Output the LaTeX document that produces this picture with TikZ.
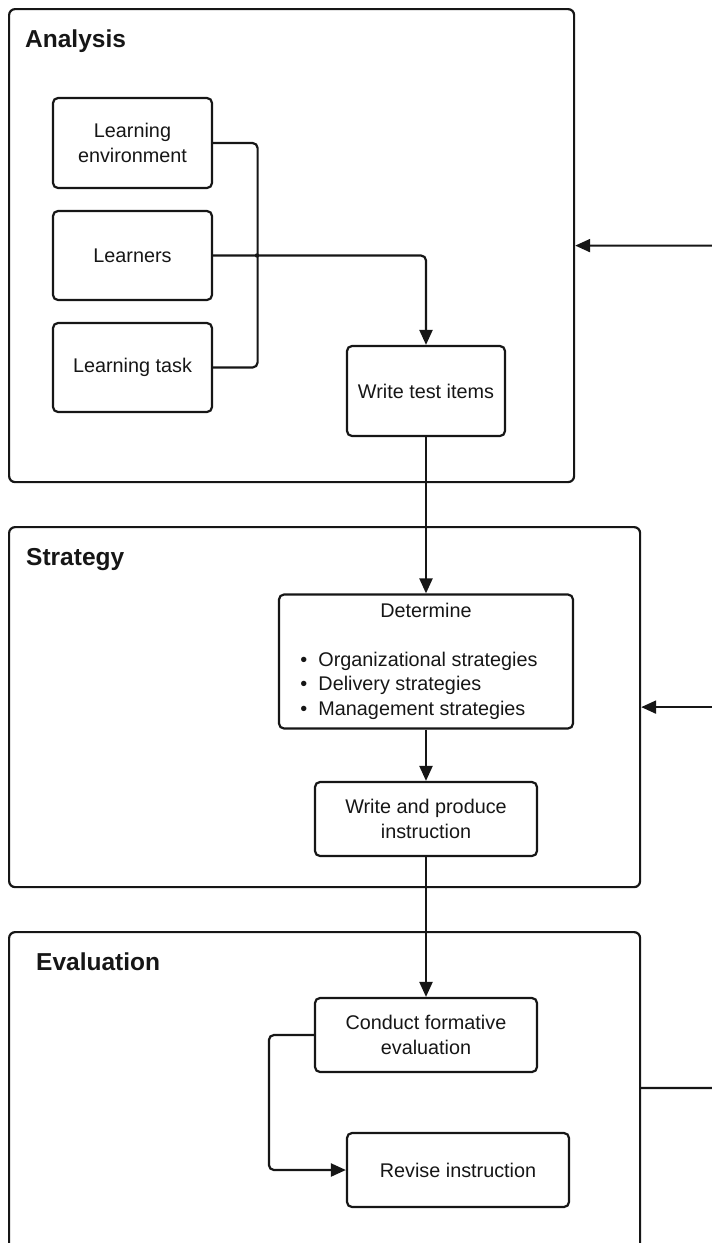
\documentclass[tikz,border=0pt]{standalone}
\usepackage{fontspec}
\setmainfont{Liberation Sans}
\usetikzlibrary{arrows.meta}
\definecolor{ink}{HTML}{161616}
\begin{document}
\begin{tikzpicture}[x=1pt,y=-1pt,
  panel/.style={draw=ink, line width=2.2pt, rounded corners=6pt, inner sep=0, anchor=north west},
  stepbox/.style={draw=ink, line width=2.2pt, rounded corners=5pt, align=center, text=ink,
    font=\fontsize{19.8}{24.5}\selectfont, inner sep=0},
  title/.style={font=\fontsize{24.5}{28}\selectfont\bfseries, text=ink, anchor=base west, inner sep=0},
  link/.style={draw=ink, line width=2.2pt, rounded corners=5pt},
  flow/.style={link, -{Triangle[length=15pt,width=13pt]}}]
\useasboundingbox (0,0) rectangle (712,1243);
\clip (0,0) rectangle (712,1243);

% phase panels
\node[panel, minimum width=565, minimum height=473] (analysis) at (8,8) {};
\node[panel, minimum width=631, minimum height=360] (strategy) at (8,526) {};
\node[panel, minimum width=631, minimum height=330] (evaluation) at (8,931) {};

\node[title] (tana) at (25,47) {Analysis};
\node[title] (tstr) at (26,565) {Strategy};
\node[title] (teva) at (36,970) {Evaluation};

% analysis steps
\node[stepbox, minimum width=159, minimum height=90] (env) at (132.5,143) {Learning\\environment};
\node[stepbox, minimum width=159, minimum height=89] (lrn) at (132.5,255.5) {Learners};
\node[stepbox, minimum width=159, minimum height=89] (task) at (132.5,367.5) {Learning task};
\node[stepbox, minimum width=158, minimum height=90] (wti) at (426,391) {Write test items};

% strategy steps
\node[stepbox, minimum width=294, minimum height=134] (det) at (426,661.5) {%
  \begin{tabular}{@{}l@{\hspace{14pt}}}
  \multicolumn{1}{@{\hspace{7pt}}c@{\hspace{7pt}}}{Determine}\\[24.5pt]
  \makebox[18pt][l]{\textbullet}Organizational strategies\\
  \makebox[18pt][l]{\textbullet}Delivery strategies\\
  \makebox[18pt][l]{\textbullet}Management strategies
  \end{tabular}};
\node[stepbox, minimum width=222, minimum height=74] (wpi) at (426,819) {Write and produce\\instruction};

% evaluation steps
\node[stepbox, minimum width=222, minimum height=74] (cfe) at (426,1035) {Conduct formative\\evaluation};
\node[stepbox, minimum width=222, minimum height=74] (rev) at (458,1170) {Revise instruction};

% analysis connectors
\draw[link] (env.east) -- ++(44.5,0) |- (task.east);
\draw[flow] (lrn.east) -| (wti.north);
\fill[ink] (257,255.5) circle (2.2pt);

% main flow
\draw[flow] (wti.south) -- (det.north);
\draw[flow] (det.south) -- (wpi.north);
\draw[flow] (wpi.south) -- (cfe.north);
\draw[flow] (cfe.west) -- ++(-45,0) |- (rev.west);

% feedback from evaluation to the earlier phases
\coordinate (evalport) at (639,1088);
\coordinate (rail) at (730,1088);
\draw[flow] (evalport) -- (rail) |- (analysis.east);
\draw[flow] (rail |- strategy.east) -- (strategy.east);
\end{tikzpicture}
\end{document}
